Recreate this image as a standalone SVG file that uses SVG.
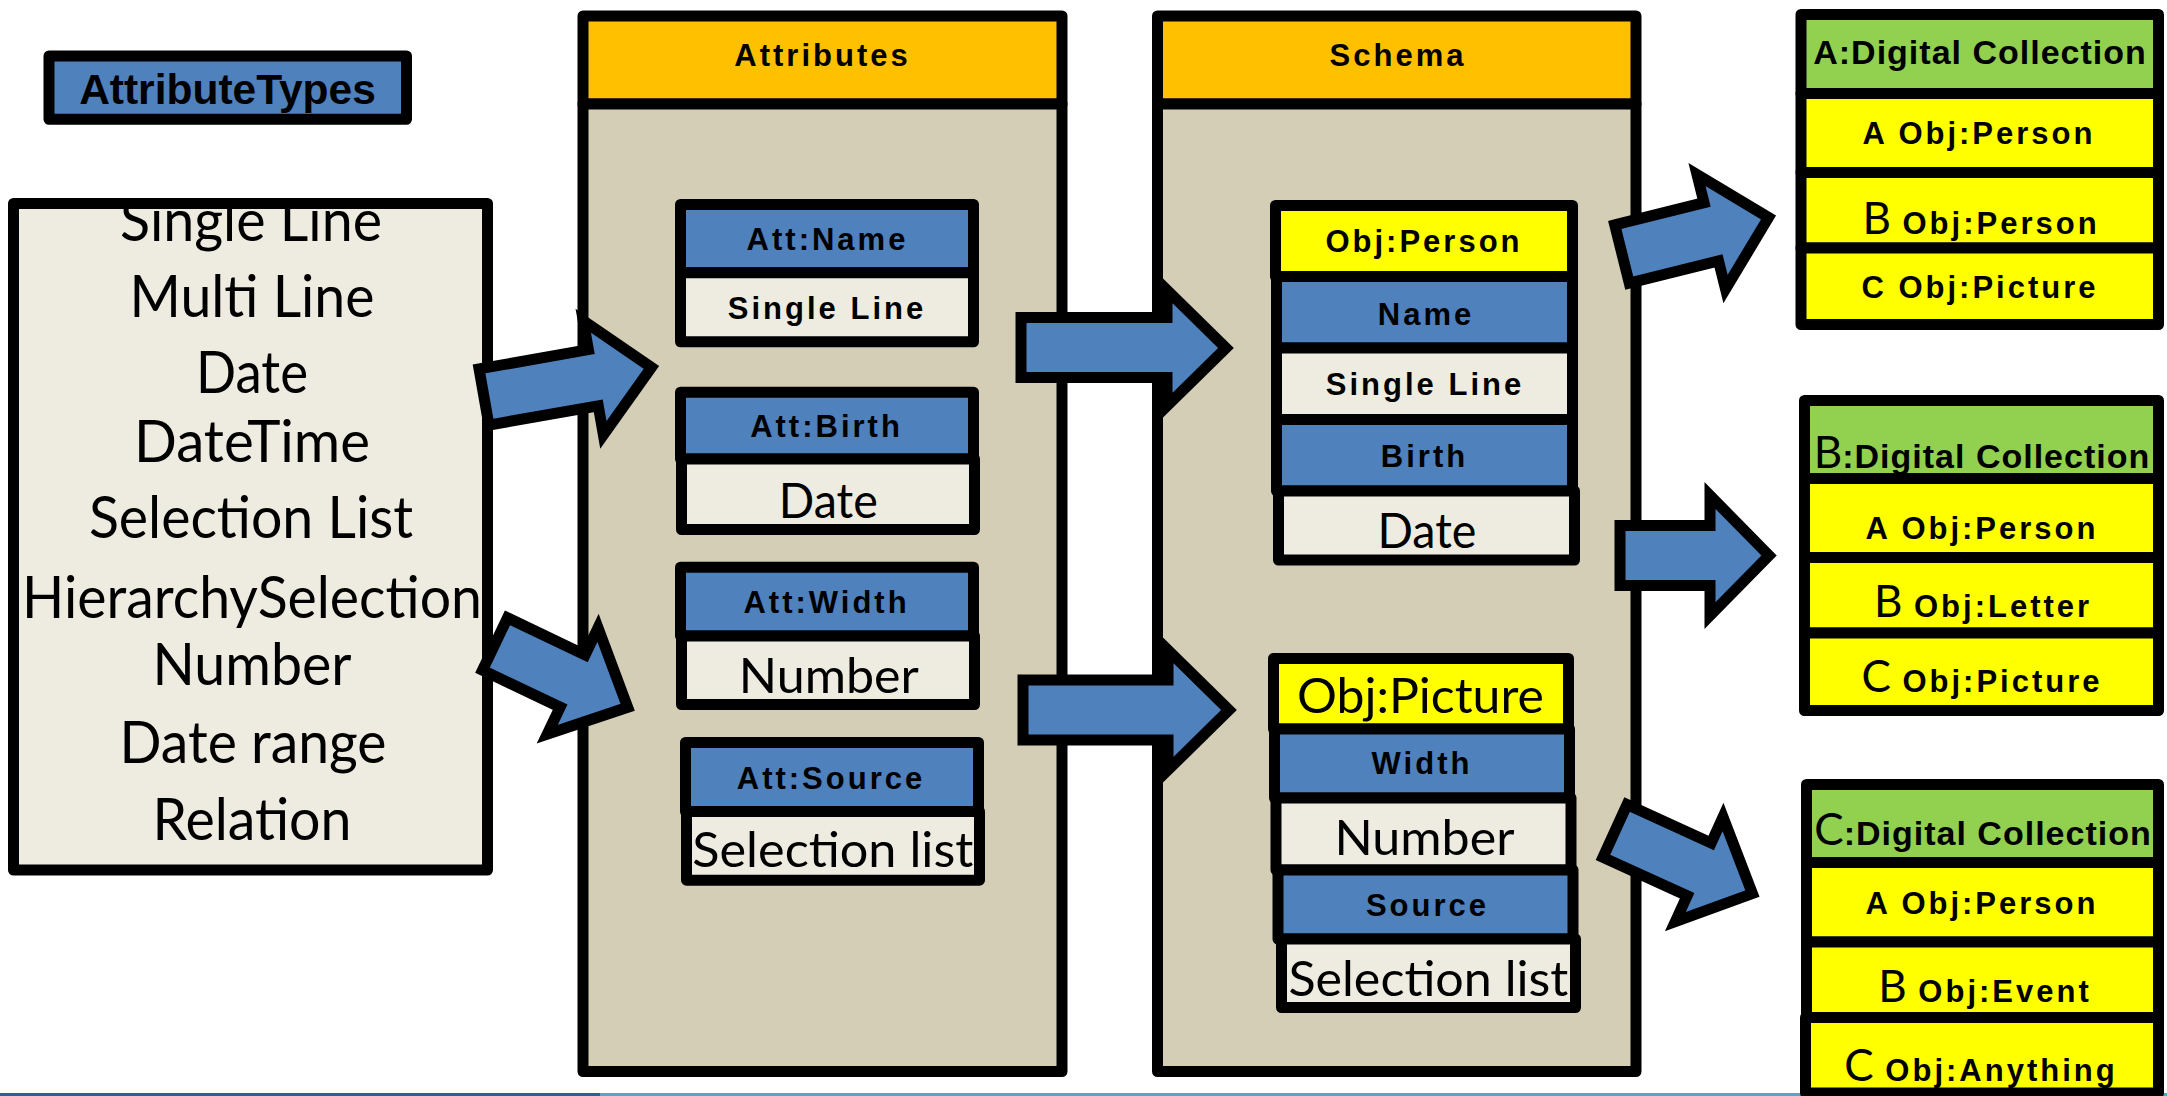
<svg xmlns="http://www.w3.org/2000/svg" width="2167" height="1096" viewBox="0 0 2167 1096">
<style>
.bx{stroke:#000;stroke-width:11;stroke-linejoin:round}
.blue{fill:#4F81BD}.lt{fill:#EEECE1}.tan{fill:#D4CEB6}.hdr{fill:#FFC000}.yel{fill:#FFFF00}.grn{fill:#92D050}
.b{font-family:"Liberation Sans",Arial,sans-serif;font-weight:bold;font-size:31px;letter-spacing:3px;text-anchor:middle;fill:#000}
.hd{font-size:34px;letter-spacing:1px}
.r{font-family:Lato,"Open Sans",sans-serif;font-size:49px;text-anchor:middle;fill:#000}
.lst{font-family:Lato,"Open Sans",sans-serif;font-size:58px;text-anchor:middle;fill:#000}
.big{font-family:Lato,"Open Sans",sans-serif;font-weight:normal;font-size:44px;letter-spacing:0}
.arr{fill:#4F81BD;stroke:#000;stroke-width:11;stroke-linejoin:miter;stroke-miterlimit:10}
</style>
<rect x="0" y="0" width="2167" height="1096" fill="#FFFFFF"/>
<g id="footer-line">
<rect x="0" y="1093" width="600" height="3" fill="#2E5F94"/>
<rect x="600" y="1093" width="1567" height="3" fill="#4BACC6"/>
</g>

<g id="attribute-types">
<rect class="bx blue" x="49" y="56" width="357.5" height="63.3"/>
<text class="b" x="227.5" y="104" style="font-size:42.5px;letter-spacing:0">AttributeTypes</text>
</g>

<g id="type-list">
<rect class="lt" x="13.5" y="203.5" width="474" height="666.5"/>
<text class="lst" x="251" y="241" textLength="262" lengthAdjust="spacingAndGlyphs">Single Line</text>
<text class="lst" x="252" y="317" textLength="245" lengthAdjust="spacingAndGlyphs">Multi Line</text>
<text class="lst" x="252" y="393" textLength="112" lengthAdjust="spacingAndGlyphs">Date</text>
<text class="lst" x="252" y="462" textLength="236" lengthAdjust="spacingAndGlyphs">DateTime</text>
<text class="lst" x="251" y="538" textLength="324" lengthAdjust="spacingAndGlyphs">Selection List</text>
<text class="lst" x="252" y="618" textLength="460" lengthAdjust="spacingAndGlyphs">HierarchySelection</text>
<text class="lst" x="252" y="685" textLength="199" lengthAdjust="spacingAndGlyphs">Number</text>
<text class="lst" x="253" y="763" textLength="267" lengthAdjust="spacingAndGlyphs">Date range</text>
<text class="lst" x="252" y="840" textLength="199" lengthAdjust="spacingAndGlyphs">Relation</text>
<rect class="bx" fill="none" x="13.5" y="203.5" width="474" height="666.5"/>
</g>

<g id="attributes-panel">
<rect class="bx hdr" x="583" y="16" width="479" height="88"/>
<rect class="bx tan" x="583" y="104" width="479" height="967.5"/>
<text class="b" x="822.5" y="66">Attributes</text>
</g>

<g id="att-name">
<rect class="bx blue" x="680.5" y="204.5" width="293" height="68.2"/>
<rect class="bx lt" x="680.5" y="272.7" width="293" height="69.1"/>
<text class="b" x="827.5" y="250">Att:Name</text>
<text class="b" x="827" y="318.7">Single Line</text>
</g>

<g id="att-birth">
<rect class="bx blue" x="680.5" y="392.2" width="293" height="66.8"/>
<rect class="bx lt" x="681.5" y="459" width="293" height="70.5"/>
<text class="b" x="826.5" y="437">Att:Birth</text>
<text class="r" x="828.3" y="517.5" textLength="99" lengthAdjust="spacingAndGlyphs">Date</text>
</g>

<g id="att-width">
<rect class="bx blue" x="680.5" y="567.2" width="293" height="68.8"/>
<rect class="bx lt" x="681.5" y="636" width="293" height="68.5"/>
<text class="b" x="826.5" y="612.6">Att:Width</text>
<text class="r" x="828.8" y="692.6" textLength="180" lengthAdjust="spacingAndGlyphs">Number</text>
</g>

<g id="att-source">
<rect class="bx blue" x="685.5" y="742.5" width="293" height="68.9"/>
<rect class="bx lt" x="686.5" y="811.4" width="293" height="68.8"/>
<text class="b" x="831" y="789">Att:Source</text>
<text class="r" x="832.8" y="867.3" textLength="281" lengthAdjust="spacingAndGlyphs">Selection list</text>
</g>

<g id="schema-panel">
<rect class="bx hdr" x="1157.5" y="16" width="478.5" height="88"/>
<rect class="bx tan" x="1157.5" y="104" width="478.5" height="967.5"/>
<text class="b" x="1398" y="66">Schema</text>
</g>

<g id="obj-person">
<rect class="bx yel" x="1275.5" y="205.5" width="297" height="71"/>
<rect class="bx blue" x="1276.5" y="276.5" width="296" height="71.5"/>
<rect class="bx lt" x="1276.5" y="348" width="296" height="71.5"/>
<rect class="bx blue" x="1276.5" y="419.5" width="296" height="71.5"/>
<rect class="bx lt" x="1278.5" y="491" width="296" height="69"/>
<text class="b" x="1424" y="251.6">Obj:Person</text>
<text class="b" x="1426" y="325">Name</text>
<text class="b" x="1425" y="395">Single Line</text>
<text class="b" x="1424.5" y="467">Birth</text>
<text class="r" x="1427" y="548" textLength="99" lengthAdjust="spacingAndGlyphs">Date</text>
</g>

<g id="obj-picture">
<rect class="bx yel" x="1273.5" y="658.5" width="295" height="70.5"/>
<rect class="bx blue" x="1274.5" y="729" width="295" height="69"/>
<rect class="bx lt" x="1276" y="798" width="295" height="72"/>
<rect class="bx blue" x="1278" y="870" width="295" height="69"/>
<rect class="bx lt" x="1281.5" y="939" width="294" height="68.5"/>
<text class="r" x="1420.5" y="713" textLength="247" lengthAdjust="spacingAndGlyphs">Obj:Picture</text>
<text class="b" x="1422" y="774">Width</text>
<text class="r" x="1424.5" y="855" textLength="180" lengthAdjust="spacingAndGlyphs">Number</text>
<text class="b" x="1427.5" y="916">Source</text>
<text class="r" x="1428.4" y="996" textLength="280" lengthAdjust="spacingAndGlyphs">Selection list</text>
</g>

<g id="collection-a">
<rect class="bx grn" x="1801" y="14.5" width="357.5" height="79"/>
<rect class="bx yel" x="1801" y="93.5" width="357.5" height="79"/>
<rect class="bx yel" x="1801" y="172.5" width="357.5" height="75.5"/>
<rect class="bx yel" x="1801" y="248" width="357.5" height="76.5"/>
<text class="b hd" x="1980" y="64">A:Digital Collection</text>
<text class="b" x="1979" y="144">A Obj:Person</text>
<text class="b" x="1981" y="234"><tspan class="big">B</tspan> Obj:Person</text>
<text class="b" x="1980" y="298">C Obj:Picture</text>
</g>

<g id="collection-b">
<rect class="bx grn" x="1804.5" y="400.5" width="354" height="78"/>
<rect class="bx yel" x="1804.5" y="478.5" width="354" height="79"/>
<rect class="bx yel" x="1804.5" y="557.5" width="354" height="75.5"/>
<rect class="bx yel" x="1804.5" y="633" width="354" height="77.5"/>
<text class="b hd" x="1982" y="468"><tspan class="big">B</tspan>:Digital Collection</text>
<text class="b" x="1982" y="539">A Obj:Person</text>
<text class="b" x="1983" y="617"><tspan class="big">B</tspan> Obj:Letter</text>
<text class="b" x="1982" y="692"><tspan class="big">C</tspan> Obj:Picture</text>
</g>

<g id="collection-c">
<rect class="bx grn" x="1806.5" y="784.5" width="352" height="78"/>
<rect class="bx yel" x="1806.5" y="862.5" width="352" height="79.5"/>
<rect class="bx yel" x="1806.5" y="942" width="352" height="75.5"/>
<rect class="bx yel" x="1805.5" y="1017.5" width="353" height="75.5"/>
<text class="b hd" x="1983" y="845"><tspan class="big">C</tspan>:Digital Collection</text>
<text class="b" x="1982" y="914">A Obj:Person</text>
<text class="b" x="1985" y="1002"><tspan class="big">B</tspan> Obj:Event</text>
<text class="b" x="1981" y="1081"><tspan class="big">C</tspan> Obj:Anything</text>
</g>

<g id="connectors">
<polygon class="arr" transform="translate(484,397) rotate(-10)" points="0,-28.5 111,-28.5 111,-58 170,0 111,58 111,28.5 0,28.5"/>
<polygon class="arr" transform="translate(495,644) rotate(25.5)" points="0,-29 86,-29 86,-59 147,0 86,59 86,29 0,29"/>
<polygon class="arr" points="1021,317.5 1167,317.5 1167,290 1226,348 1167,406 1167,377.5 1021,377.5"/>
<polygon class="arr" points="1023,680 1168,680 1168,650 1229,710 1168,770 1168,740 1023,740"/>
<polygon class="arr" transform="translate(1622,254) rotate(-14)" points="0,-30 92,-30 92,-59 151,0 92,59 92,30 0,30"/>
<polygon class="arr" points="1620,525.5 1710,525.5 1710,495.5 1769,555.5 1710,615.5 1710,585.5 1620,585.5"/>
<polygon class="arr" transform="translate(1615,831) rotate(24.5)" points="0,-29 92.5,-29 92.5,-57.5 151,0 92.5,57.5 92.5,29 0,29"/>
</g>
</svg>
